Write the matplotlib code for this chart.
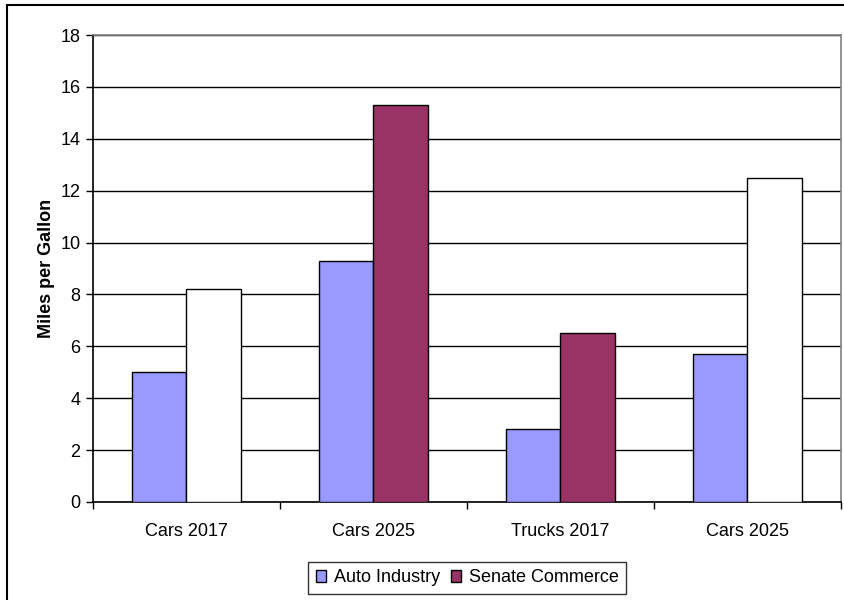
import matplotlib
matplotlib.use("Agg")
import matplotlib.pyplot as plt
import numpy as np
from matplotlib.patches import Rectangle, Patch

plt.rcParams['font.family'] = ['Liberation Sans', 'DejaVu Sans']

categories = ["Cars 2017", "Cars 2025", "Trucks 2017", "Cars 2025"]
auto_industry = [5.0, 9.3, 2.8, 5.7]
senate_commerce = [8.2, 15.3, 6.5, 12.5]
senate_colors = ["#FFFFFF", "#993366", "#993366", "#FFFFFF"]
auto_color = "#9999FF"
senate_color = "#993366"

fig = plt.figure(figsize=(8.45, 6.0), dpi=100)
ax = fig.add_axes([93/845, 98/600, (841-93)/845, (502-35)/600])

x = np.arange(len(categories))
w = 0.29
ax.bar(x - w/2, auto_industry, w, color=auto_color, edgecolor="black", linewidth=1, zorder=3)
ax.bar(x + w/2, senate_commerce, w, color=senate_colors, edgecolor="black", linewidth=1, zorder=3)

ax.set_xlim(-0.5, len(categories) - 0.5)
ax.set_ylim(0, 18)
ax.set_yticks(np.arange(0, 19, 2))
ax.yaxis.grid(True, color="black", linewidth=1, zorder=0)
ax.set_axisbelow(True)

ax.set_xticks(np.arange(-0.5, len(categories), 1))
ax.set_xticklabels([])
ax.set_xticks(x, minor=True)
ax.set_xticklabels(categories, minor=True, fontsize=13)
ax.tick_params(axis="x", which="minor", length=0, pad=15)
ax.tick_params(axis="x", which="major", length=5, width=1, direction="out")
ax.tick_params(axis="y", length=5, width=1, direction="out", labelsize=13, pad=4)

for side in ["left", "bottom"]:
    ax.spines[side].set_color("black")
    ax.spines[side].set_linewidth(1.2)
for side in ["top", "right"]:
    ax.spines[side].set_color("#808080")
    ax.spines[side].set_linewidth(1.2)

ax.set_ylabel("Miles per Gallon", fontsize=13, fontweight="bold", labelpad=4)

handles = [Patch(facecolor=auto_color, edgecolor="black", label="Auto Industry"),
           Patch(facecolor=senate_color, edgecolor="black", label="Senate Commerce")]
leg = fig.legend(handles=handles, loc="center", bbox_to_anchor=(467/845, 1 - 578/600),
                 ncol=2, fontsize=13, frameon=True, fancybox=False, edgecolor="black",
                 handlelength=0.6, handleheight=0.6, handletextpad=0.4, columnspacing=0.6,
                 borderpad=0.4)
leg.get_frame().set_linewidth(1)

fig.patches.append(Rectangle((7/845, -0.01), 1.0, 1 - 5/600 + 0.01, transform=fig.transFigure,
                             fill=False, edgecolor="black", linewidth=1.5))

fig.savefig("out.png", dpi=100)
